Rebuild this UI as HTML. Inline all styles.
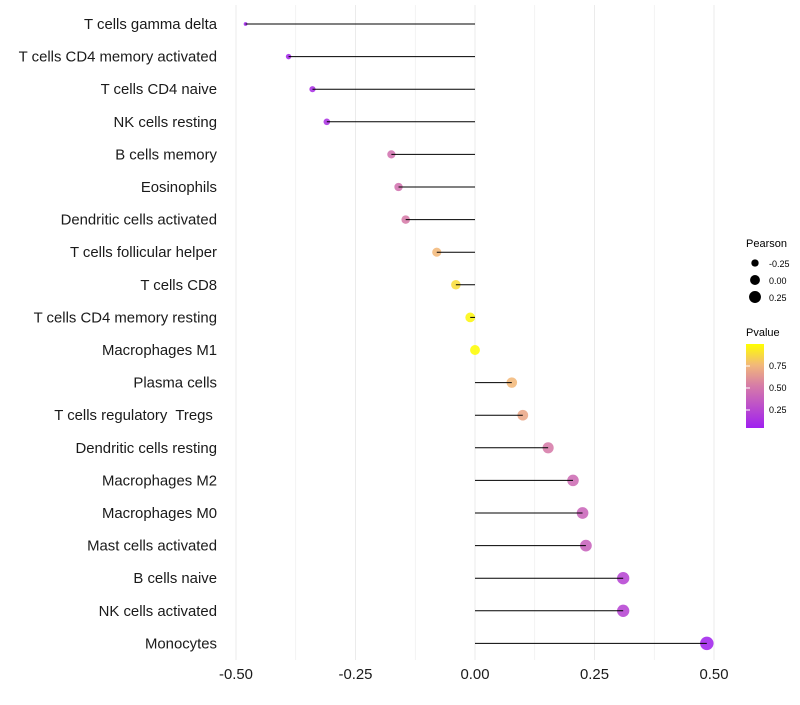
<!DOCTYPE html>
<html><head><meta charset="utf-8"><style>
body{margin:0;background:#fff;font-family:"Liberation Sans",sans-serif}
text{white-space:pre}
</style></head><body>
<svg id="chart" width="800" height="700" xmlns="http://www.w3.org/2000/svg">
<g id="grid"></g>
<g id="dots"></g>
<g id="marks"></g>
<g id="ylab"></g>
<g id="xlab"></g>
<g id="legend">
<defs><linearGradient id="pg" x1="0" y1="1" x2="0" y2="0">
<stop offset="0" stop-color="#a020f0"/><stop offset="0.5" stop-color="#d67ba8"/><stop offset="0.75" stop-color="#f2b87a"/><stop offset="1" stop-color="#ffff00"/></linearGradient></defs>
<text x="746" y="247" font-size="11">Pearson</text>
<text x="746" y="336" font-size="11">Pvalue</text>
<rect x="746" y="344" width="18" height="84" fill="url(#pg)"/>
</g>
</svg>
<script>
const categories=["T cells gamma delta","T cells CD4 memory activated","T cells CD4 naive","NK cells resting","B cells memory","Eosinophils","Dendritic cells activated","T cells follicular helper","T cells CD8","T cells CD4 memory resting","Macrophages M1","Plasma cells","T cells regulatory  Tregs ","Dendritic cells resting","Macrophages M2","Macrophages M0","Mast cells activated","B cells naive","NK cells activated","Monocytes"];
const pearson=[-0.48,-0.39,-0.34,-0.31,-0.175,-0.16,-0.145,-0.08,-0.04,-0.01,0.0,0.077,0.10,0.153,0.205,0.225,0.232,0.31,0.31,0.485];
const pvalue=[0.02,0.05,0.08,0.1,0.45,0.45,0.5,0.75,0.88,0.97,0.99,0.75,0.68,0.5,0.42,0.38,0.36,0.2,0.2,0.02];
const xTicks=[-0.5,-0.25,0,0.25,0.5];
const xTickLabels=["-0.50","-0.25","0.00","0.25","0.50"];
const legendSizes=[-0.25,0,0.25];
const legendColorTicks=[0.25,0.5,0.75];
const NS="http://www.w3.org/2000/svg";
const x=v=>475+v*478;
const y=i=>24+i*32.6;
const pmin=Math.min(...pearson),pmax=Math.max(...pearson);
const r=v=>Math.sqrt(Math.max(0.5,3.5+42*(v-pmin)/(pmax-pmin)));
const stops=[[0,[160,32,240]],[0.5,[214,123,168]],[0.75,[242,184,122]],[1,[255,255,0]]];
function col(p){for(let k=1;k<stops.length;k++){if(p<=stops[k][0]){const a=stops[k-1],b=stops[k],t=(p-a[0])/(b[0]-a[0]);return "rgb("+a[1].map((c,j)=>Math.round(c+(b[1][j]-c)*t)).join(",")+")";}}return "rgb(255,255,0)";}
function mk(t,at,parent){const e=document.createElementNS(NS,t);for(const k in at)e.setAttribute(k,at[k]);document.getElementById(parent).appendChild(e);return e;}
const g=[];for(let v=-0.5;v<=0.5001;v+=0.125)g.push(v);
g.forEach(v=>{const l=mk("line",{x1:x(v),x2:x(v),y1:5,y2:660,stroke:"#ebebeb","stroke-width":Math.abs(v*4-Math.round(v*4))<1e-6?1:0.6},"grid");

});
categories.forEach((c,i)=>{
const d=mk("circle",{cx:x(pearson[i]),cy:y(i),r:r(pearson[i]),fill:col(pvalue[i]),"fill-opacity":0.88},"dots");


const ln=mk("line",{x1:x(0),x2:x(pearson[i]),y1:y(i),y2:y(i),stroke:"#000","stroke-width":1},"marks");


const t=mk("text",{x:217,y:y(i)+5,"text-anchor":"end","font-size":14.9,fill:"#1a1a1a"},"ylab");t.textContent=c;

});
xTicks.forEach((v,i)=>{const t=mk("text",{x:x(v),y:679,"text-anchor":"middle","font-size":14.9,fill:"#1a1a1a"},"xlab");t.textContent=xTickLabels[i];

});
legendSizes.forEach((v,i)=>{const c=mk("circle",{cx:755,cy:263+i*17,r:r(v),fill:"#000"},"legend");


const t=mk("text",{x:769,y:267+i*17,"font-size":9},"legend");t.textContent=v.toFixed(2);

});
legendColorTicks.forEach(v=>{const yy=432-v*88;
const t=mk("text",{x:769,y:yy+3,"font-size":9},"legend");t.textContent=v.toFixed(2);


const l=mk("line",{x1:746,x2:750,y1:yy,y2:yy,stroke:"#fff"},"legend");

});
</script>
</body></html>
